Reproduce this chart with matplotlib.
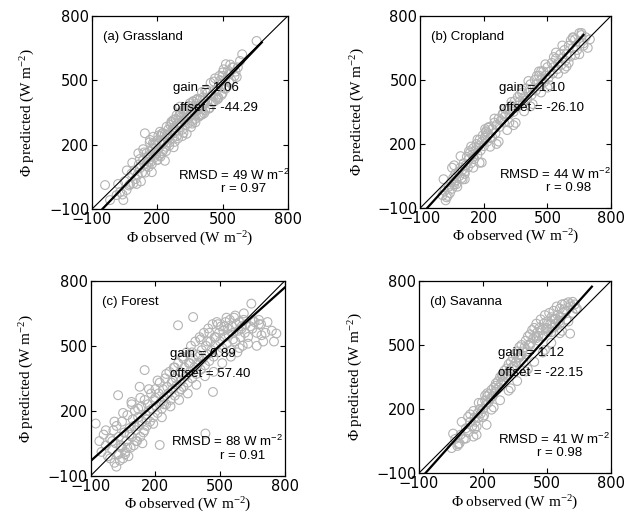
import numpy as np
import matplotlib
matplotlib.use("Agg")
import matplotlib.pyplot as plt

plt.rcParams['mathtext.default'] = 'regular'

# ---- data (observed vs predicted, W m-2) ----
obs_a = [-40, -17, 13, 44, 59, 30, 70, 50, 82, 90, 100, 110, 95, 120, 113, 130, 140, 135,
         150, 155, 160, 165, 166, 170, 175, 180, 185, 190, 195, 200, 200, 205, 210, 215,
         220, 225, 230, 235, 240, 245, 250, 255, 260, 265, 270, 275, 280, 285, 290, 295,
         300, 305, 310, 315, 320, 325, 330, 335, 340, 345, 350, 355, 360, 365, 370, 375,
         380, 385, 390, 395, 400, 405, 410, 415, 420, 430, 440, 450, 460, 470, 480, 490,
         500, 510, 520, 530, 540, 550, 560, 580, 656, 150, 170, 190, 210, 230, 250, 270,
         290, 310, 330, 350, 370, 390, 410, 430, 450, 470, 490, 510, 530, 545, 555, 570,
         525, 500, 515, 143, 182, 212, 243, 274, 289, 320, 304, 350,
         20, 40, 60, 75, 85, 105, 115, 125, 135, 145, 155, 165, 175, 185, 195, 205, 215,
         225, 235, 245, 255, 265, 275, 285, 295, 305, 315, 325, 335, 345, 355, 365, 375,
         385, 395, 405, 415, 425, 435, 445, 455, 465, 475, 485, 495, 505, 515, 535, 565,
         590, 120, 140, 160, 180, 200, 220, 240, 260, 280, 300, 320, 340, 360, 380, 400,
         420, 440, 460, 480, 500]
pred_a = [12, -58, -35, -58, -11, -20, 10, 30, 66, 20, 40, 60, 80, 90, 160, 70, 110, 130,
          100, 140, 120, 170, 222, 150, 110, 180, 140, 200, 160, 130, 220, 180, 150, 240,
          200, 170, 210, 250, 190, 230, 270, 210, 250, 300, 230, 280, 260, 320, 240, 300,
          280, 340, 300, 270, 350, 310, 290, 360, 330, 300, 370, 340, 310, 400, 350, 320,
          390, 360, 330, 410, 380, 340, 420, 390, 360, 400, 370, 430, 400, 450, 420, 470,
          440, 500, 470, 530, 500, 560, 540, 590, 683, 160, 120, 170, 210, 180, 230, 270,
          290, 330, 320, 330, 380, 380, 380, 440, 400, 420, 500, 460, 490, 560, 520, 560,
          545, 520, 575, 253, 237, 260, 284, 315, 338, 362, 377, 393,
          17, -32, 80, 16, 116, 17, 108, 29, 179, 70, 140, 211, 72, 202, 153, 243, 144,
          255, 125, 246, 196, 307, 188, 318, 229, 349, 240, 360, 251, 382, 282, 403, 304,
          414, 335, 445, 346, 457, 367, 488, 398, 509, 410, 520, 431, 551, 462, 573, 515,
          621, 133, 164, 96, 207, 128, 249, 170, 292, 213, 334, 255, 376, 298, 409, 340,
          451, 372, 494, 415, 536]

obs_b = [5, 15, 25, 35, 40, 45, 50, 55, 60, 65, 70, 75, 80, 85, 90, 95, 100, 105, 110, 115,
         120, 125, 130, 135, 140, 145, 150, 155, 160, 165, 170, 175, 180, 185, 190, 195,
         200, 205, 210, 215, 220, 225, 230, 240, 250, 255, 260, 270, 275, 280, 290, 295,
         300, 310, 320, 330, 340, 345, 350, 360, 365, 370, 380, 385, 390, 400, 405, 410,
         420, 425, 430, 440, 445, 450, 460, 465, 470, 480, 485, 490, 500, 505, 510, 520,
         525, 530, 540, 545, 550, 560, 565, 570, 580, 585, 590, 600, 610, 620, 630, 640,
         650, 660, 670, 680, 690, 700, 650, 620, 600, 206, 60, 110, 150, 240, 320, 470,
         10, 30, 50, 70, 90, 110, 130, 150, 170, 190, 210, 230, 250, 270, 290, 310, 330,
         350, 370, 390, 410, 430, 450, 470, 490, 510, 530, 550, 570, 590, 610, 630, 650,
         670, 20, 60, 100, 140, 180, 220, 260, 300, 340, 380, 420, 460, 500, 540, 580,
         620, 660]
pred_b = [-40, -20, -50, 0, -30, 20, -10, 40, 10, 60, 30, 0, 70, 50, 90, 40, 80, 110, 60, 100,
          140, 90, 130, 160, 110, 150, 180, 130, 170, 200, 150, 190, 220, 170, 210, 240,
          190, 230, 260, 210, 250, 280, 230, 270, 300, 250, 290, 320, 280, 310, 340, 300,
          330, 360, 340, 380, 350, 400, 370, 420, 380, 400, 440, 390, 420, 460, 410, 440,
          480, 430, 460, 500, 450, 480, 520, 470, 500, 540, 490, 520, 560, 510, 540, 580,
          530, 560, 600, 550, 580, 620, 570, 600, 640, 590, 620, 660, 610, 650, 690, 640,
          680, 720, 660, 700, 650, 690, 620, 700, 580, 270, 20, 70, 140, 230, 300, 540,
          35, -43, 89, 11, 143, 35, 167, 89, 221, 113, 255, 187, 319, 211, 343, 265, 397,
          299, 431, 353, 495, 387, 519, 441, 573, 475, 607, 529, 661, 563, 685, 617, 719,
          671, -64, 100, 34, 188, 112, 276, 200, 364, 288, 452, 376, 540, 464, 628, 552,
          696, 710]

obs_c = [-77, -60, -50, -40, -30, -20, -10, 0, 5, 10, 15, 19, 20, 25, 27, 30, 35, 40, 45, 50,
         55, 60, 65, 70, 75, 80, 85, 89, 90, 95, 100, 105, 110, 115, 120, 127, 125, 130,
         135, 140, 145, 150, 150, 155, 160, 165, 170, 175, 180, 185, 190, 195, 200, 205,
         210, 215, 220, 220, 225, 230, 235, 240, 245, 250, 255, 260, 265, 270, 275, 280,
         285, 290, 295, 300, 305, 305, 310, 315, 320, 325, 330, 335, 340, 345, 350, 355,
         360, 365, 370, 375, 375, 380, 385, 390, 395, 400, 405, 410, 415, 420, 425, 430,
         432, 435, 440, 445, 450, 455, 460, 467, 465, 470, 475, 480, 485, 490, 495, 500,
         505, 510, 515, 520, 525, 530, 535, 540, 545, 550, 555, 560, 565, 570, 575, 580,
         585, 590, 595, 600, 605, 610, 615, 620, 630, 645, 650, 660, 670, 680, 692, 700,
         720, 740, 761, 750,
         -30, -10, 10, 30, 50, 70, 90, 110, 130, 150, 170, 190, 210, 230, 250, 270, 290,
         310, 330, 350, 370, 390, 410, 430, 450, 470, 490, 510, 530, 550, 570, 590, 610,
         630, 650, 670, 690, 710, 0, 40, 80, 120, 160, 200, 240, 280, 320, 360, 400, 440,
         480, 520, 560, 600, 640, 680, 60, 100, 140]
pred_c = [141, 60, 10, 90, 40, -10, 70, 20, 110, -40, 50, -58, 130, 0, 272, 80, -30, 40,
          150, -20, 100, 10, 60, 180, -10, 120, 30, 241, 80, 160, 40, 200, 110, 60, 170,
          311, 130, 80, 220, 150, 100, 388, 250, 180, 130, 230, 200, 150, 280, 210, 170,
          250, 300, 220, 190, 280, 42, 330, 240, 210, 300, 260, 350, 230, 310, 280, 380,
          250, 330, 300, 400, 270, 350, 320, 595, 420, 290, 380, 340, 450, 310, 400, 360,
          470, 330, 420, 380, 500, 350, 633, 440, 400, 520, 370, 460, 420, 540, 390, 480,
          440, 560, 410, 95, 500, 460, 580, 430, 520, 480, 287, 600, 450, 540, 500, 610,
          470, 560, 520, 590, 490, 570, 540, 610, 510, 580, 550, 620, 480, 590, 560, 630,
          520, 600, 470, 570, 610, 540, 590, 500, 620, 560, 600, 541, 695, 580, 610, 560,
          600, 549, 520, 610, 570, 557, 520,
          110, -20, 150, 0, 190, 30, 230, 60, 260, 110, 300, 140, 340, 170, 370, 220, 400,
          250, 440, 280, 470, 320, 530, 360, 560, 380, 600, 420, 630, 450, 640, 490, 650,
          510, 620, 500, 600, 560, 60, 30, 90, 210, 160, 260, 230, 340, 300, 420, 450, 520,
          540, 590, 530, 580, 590, 620, 0, 130, 50]

obs_d = [53, 84, 70, 95, 110, 120, 130, 140, 150, 155, 155, 160, 165, 170, 175, 180, 185,
         190, 195, 200, 205, 210, 215, 217, 220, 225, 230, 235, 240, 245, 250, 255, 260,
         265, 270, 275, 280, 285, 290, 295, 300, 305, 310, 315, 320, 325, 330, 335, 340,
         345, 350, 355, 360, 365, 370, 375, 380, 385, 390, 395, 400, 405, 410, 415, 420,
         425, 430, 435, 440, 445, 450, 455, 460, 465, 470, 475, 480, 485, 490, 495, 500,
         505, 510, 515, 520, 525, 530, 535, 540, 545, 550, 555, 560, 565, 570, 575, 584,
         590, 600, 608, 610, 620, 630, 640, 590, 560, 520,
         60, 80, 100, 120, 140, 160, 180, 200, 220, 240, 260, 280, 300, 320, 340, 360, 380,
         400, 420, 440, 460, 480, 500, 520, 540, 560, 580, 600, 620, 90, 130, 170, 210,
         250, 290, 330, 370, 410, 450, 490, 530, 570, 610, 635]
pred_d = [17, 35, 60, 80, 60, 110, 90, 140, 120, 71, 191, 160, 140, 79, 180, 160, 200, 180,
          230, 200, 170, 240, 220, 126, 260, 230, 270, 250, 290, 260, 300, 280, 320, 290,
          330, 300, 350, 320, 360, 330, 380, 350, 390, 360, 410, 380, 420, 390, 440, 400,
          460, 420, 470, 440, 490, 450, 500, 470, 420, 490, 520, 470, 540, 500, 550, 510,
          570, 530, 580, 540, 600, 560, 520, 580, 620, 570, 540, 600, 640, 580, 610, 560,
          650, 600, 630, 580, 660, 620, 600, 680, 640, 610, 670, 630, 690, 650, 693, 660,
          700, 553, 680, 650, 690, 670, 620, 600, 560,
          85, 27, 140, 62, 175, 107, 229, 162, 274, 197, 309, 241, 364, 286, 399, 331, 453,
          376, 498, 421, 543, 465, 578, 510, 623, 555, 667, 610, 702, 39, 163, 118, 263,
          208, 353, 297, 442, 387, 532, 477, 621, 566, 691, 669]

titles = ["(a) Grassland", "(b) Cropland", "(c) Forest", "(d) Savanna"]
gains = [1.06, 1.10, 0.89, 1.12]
offsets = [-44.29, -26.10, 57.40, -22.15]
rmsd = [49, 44, 88, 41]
r_vals = [0.97, 0.98, 0.91, 0.98]
fit_xmax = [680, 670, 800, 710]
ticks = [-100, 200, 500, 800]

# axes boxes in figure fractions, and x positions for the stats text
boxes = [[0.146, 0.604, 0.311, 0.366], [0.667, 0.606, 0.303, 0.364],
         [0.144, 0.099, 0.308, 0.369], [0.665, 0.104, 0.305, 0.364]]
rmsd_x = [297, 272, 271, 272]
r_x = [492, 494, 501, 452]

data = [(obs_a, pred_a), (obs_b, pred_b), (obs_c, pred_c), (obs_d, pred_d)]

fig = plt.figure(figsize=(6.3, 5.28), dpi=100)
txt = dict(family='Liberation Sans', fontsize=9.5, va='center')

for i, (xo, yp) in enumerate(data):
    ax = fig.add_axes(boxes[i])
    ax.scatter(xo, yp, s=40, facecolors='none', edgecolors='#b3b3b3', linewidths=0.8, zorder=2)
    ax.plot([-100, 800], [-100, 800], color='k', lw=0.8, zorder=3)
    xf = np.array([-100, fit_xmax[i]])
    ax.plot(xf, gains[i] * xf + offsets[i], color='k', lw=1.6, zorder=4)

    ax.set_xlim(-100, 800)
    ax.set_ylim(-100, 800)
    ax.set_xticks(ticks)
    ax.set_yticks(ticks)
    ax.tick_params(direction='in', top=True, right=True, length=3.5, width=0.8,
                   labelsize=10.5, pad=2)
    for lab in ax.get_xticklabels() + ax.get_yticklabels():
        lab.set_family('DejaVu Sans')
    for sp in ax.spines.values():
        sp.set_linewidth(0.9)

    ax.text(-50, 702, titles[i], **txt)
    ax.text(270, 463, f"gain = {gains[i]:.2f}", **txt)
    ax.text(270, 370, f"offset = {offsets[i]:.2f}", **txt)
    ax.text(rmsd_x[i], 58, f"RMSD = {rmsd[i]} W m$^{{-2}}$", **txt)
    ax.text(r_x[i], -8, f"r = {r_vals[i]:.2f}", **txt)

    ax.set_xlabel("\u03a6 observed (W m$^{-2}$)", family='Liberation Serif', fontsize=11)
    ax.set_ylabel("\u03a6 predicted (W m$^{-2}$)", family='Liberation Serif', fontsize=11)
    ax.xaxis.set_label_coords(0.5, -0.105)
    ax.yaxis.set_label_coords(-0.28, 0.5)

fig.savefig("out.png", dpi=100)
